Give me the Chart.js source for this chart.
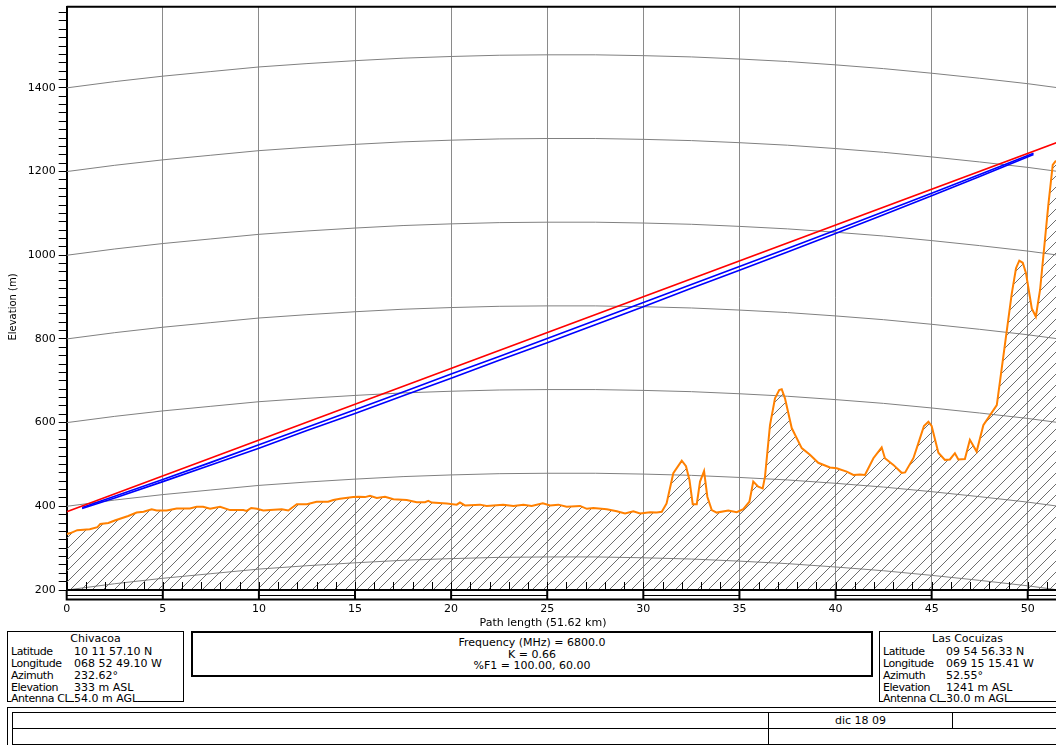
<!DOCTYPE html>
<html>
<head>
<meta charset="utf-8">
<title>Path profile Chivacoa - Las Cocuizas</title>
<script src="https://cdn.jsdelivr.net/npm/chart.js@4.4.1/dist/chart.umd.min.js"></script>
<style>
html, body { margin: 0; padding: 0; background: #fff; }
body { width: 1056px; height: 745px; position: relative; overflow: hidden;
       font-family: "DejaVu Sans", Verdana, sans-serif; font-size: 11px; color: #000; }
#profile { position: absolute; left: 0; top: 0; }
.box { position: absolute; border: 1px solid #000; box-sizing: border-box; }
.site { top: 631px; height: 71px; width: 177px; }
.site .name { position: absolute; left: 0; right: 0; top: 1px; text-align: center; line-height: 12px; }
.row { position: absolute; left: 3px; height: 12px; line-height: 12px; white-space: nowrap; }
.row span { background: #fff; }
.row .k { letter-spacing: -0.45px; }
.row .v { position: absolute; left: 63px; }
.radio { left: 191px; top: 631px; width: 682px; height: 46px; border: 2px solid #000; text-align: center; line-height: 11.5px; padding-top: 4px; }
.info { left: 7px; top: 707px; width: 1100px; height: 42px; }
.cell { position: absolute; border: 1px solid #000; box-sizing: border-box; text-align: center; line-height: 15px; }
</style>
</head>
<body>
<canvas id="profile" width="1056" height="630"></canvas>

<div class="box site" style="left:7px">
  <div class="name">Chivacoa</div>
  <div class="row" style="top:14px"><span class="k">Latitude</span><span class="v">10 11 57.10 N</span></div>
  <div class="row" style="top:26px"><span class="k">Longitude</span><span class="v">068 52 49.10 W</span></div>
  <div class="row" style="top:38px"><span class="k">Azimuth</span><span class="v">232.62°</span></div>
  <div class="row" style="top:50px"><span class="k">Elevation</span><span class="v">333 m ASL</span></div>
  <div class="row" style="top:61px"><span class="k">Antenna CL</span><span class="v">54.0 m AGL</span></div>
</div>

<div class="box radio">
  Frequency (MHz) = 6800.0<br>K = 0.66<br>%F1 = 100.00, 60.00
</div>

<div class="box site" style="left:879px; width:185px;">
  <div class="name" style="right:8px">Las Cocuizas</div>
  <div class="row" style="top:14px"><span class="k">Latitude</span><span class="v">09 54 56.33 N</span></div>
  <div class="row" style="top:26px"><span class="k">Longitude</span><span class="v">069 15 15.41 W</span></div>
  <div class="row" style="top:38px"><span class="k">Azimuth</span><span class="v">52.55°</span></div>
  <div class="row" style="top:50px"><span class="k">Elevation</span><span class="v">1241 m ASL</span></div>
  <div class="row" style="top:61px"><span class="k">Antenna CL</span><span class="v">30.0 m AGL</span></div>
</div>

<div class="box info"></div>
<div class="cell" style="left:12px; top:712px; width:757px; height:17px;"></div>
<div class="cell" style="left:768px; top:712px; width:185px; height:17px;">dic 18 09</div>
<div class="cell" style="left:952px; top:712px; width:200px; height:17px;"></div>
<div class="cell" style="left:12px; top:728px; width:757px; height:17px;"></div>
<div class="cell" style="left:768px; top:728px; width:400px; height:17px;"></div>

<script>
// terrain profile (km along path, elevation in m)
const TERRAIN_KM = [0, 0.2, 0.55, 1.2, 1.6, 1.75, 2.17, 2.5, 3.2, 3.64, 4.0, 4.42, 4.68, 5.2, 5.72, 6.41, 6.76, 7.1, 7.46, 7.98,
  8.5, 9.19, 9.36, 9.6, 9.9, 10.23, 10.58, 11.19, 11.53, 11.97, 12.5, 13.0, 13.6, 13.87, 14.22, 14.91, 15.2, 15.52, 15.78, 16.13,
  16.56, 17.0, 17.69, 18.21, 18.64, 18.81, 18.99, 19.77, 20.29, 20.46, 20.72, 21.5, 21.85, 22.71, 23.24, 23.76, 24.19, 24.77, 25.15, 25.58,
  26.01, 26.71, 27.06, 27.4, 28.1, 28.62, 29.05, 29.48, 29.83, 30.35, 30.7, 30.96, 31.21, 31.56, 32.0, 32.22, 32.4, 32.57, 32.78, 32.95,
  33.16, 33.33, 33.56, 33.82, 34.42, 34.86, 35.2, 35.52, 35.72, 35.98, 36.21, 36.33, 36.59, 36.85, 37.07, 37.2, 37.37, 37.72, 38.24, 38.67,
  39.1, 39.71, 40.06, 40.58, 40.93, 41.27, 41.53, 41.97, 42.4, 42.57, 43.01, 43.44, 43.62, 44.05, 44.31, 44.6, 44.83, 45.0, 45.35, 45.69,
  45.95, 46.21, 46.39, 46.73, 46.99, 47.34, 47.69, 48.39, 49.17, 49.39, 49.56, 49.74, 49.91, 50.21, 50.42, 50.64, 51.07, 51.3, 51.47, 51.62];
const TERRAIN_M = [334, 336, 343, 345, 350, 358, 360, 366, 377, 385, 387, 393, 390, 390, 395, 395, 399, 399, 394, 399,
  391, 391, 389, 396, 394, 390, 391, 393, 390, 405, 405, 411, 411, 415, 418, 422, 423, 422, 425, 420,
  423, 417, 415, 410, 410, 413, 409, 407, 404, 409, 402, 404, 401, 404, 401, 404, 401, 407, 402, 404,
  399, 401, 394, 396, 393, 388, 383, 388, 383, 386, 385, 387, 407, 479, 509, 496, 463, 405, 405, 459,
  484, 423, 391, 385, 390, 386, 393, 411, 459, 447, 443, 471, 594, 658, 678, 680, 658, 587, 539, 523,
  504, 493, 491, 483, 475, 476, 475, 515, 541, 515, 499, 480, 481, 515, 551, 592, 602, 592, 528, 511,
  512, 527, 512, 513, 559, 531, 594, 642, 909, 969, 987, 982, 957, 873, 853, 917, 1120, 1216, 1226, 1241];

// line of sight between antenna centre lines
const LOS_KM = [0, 51.62];
const LOS_M = [387, 1271];

// 60 % and 100 % first Fresnel zone clearance lines
const FRESNEL_KM = [0.8, 2.5, 5, 7.5, 10, 12.5, 15, 17.5, 20, 22.5, 25, 27.5, 30, 32.5, 35, 37.5, 40, 42.5, 45, 47.5, 50.3];
const F1_60_M = [397, 424, 464, 505, 547, 589, 631, 673, 716, 758, 801, 844, 887, 930, 973, 1016, 1060, 1104, 1148, 1193, 1244];
const F1_100_M = [395, 420, 459, 499, 539, 581, 622, 664, 706, 749, 791, 834, 877, 921, 964, 1008, 1052, 1097, 1142, 1188, 1241];

// earth curvature reference lines (K = 0.66)
const CURVE_KM = [0, 2.5, 5, 7.5, 10, 12.5, 15, 17.5, 20, 22.5, 25, 27.5, 30, 32.5, 35, 37.5, 40, 42.5, 45, 47.5, 50, 51.62];
const CURVE_RISE_M = [0, 15, 28, 39, 50, 58, 65, 71, 75, 78, 79, 79, 77, 74, 69, 63, 55, 46, 35, 23, 10, 0];
const CURVE_BASE_M = [200, 400, 600, 800, 1000, 1200, 1400];

const X_TICKS = [0, 5, 10, 15, 20, 25, 30, 35, 40, 45, 50];
const Y_TICKS = [200, 400, 600, 800, 1000, 1200, 1400];

const AXIS_FONT = { family: 'DejaVu Sans', size: 11 };

function makeHatch() {
    const c = document.createElement('canvas');
    c.width = 11;
    c.height = 11;
    const g = c.getContext('2d');
    g.strokeStyle = '#6e6e6e';
    g.lineWidth = 1;
    g.beginPath();
    g.moveTo(-1, 12); g.lineTo(12, -1);
    g.moveTo(-2, 2); g.lineTo(2, -2);
    g.moveTo(9, 13); g.lineTo(13, 9);
    g.stroke();
    return g.createPattern(c, 'repeat');
}

function pairs(xs, ys) {
    return xs.map((v, i) => ({ x: v, y: ys[i] }));
}

// frame, km ticks, scale bar and axis titles
const framePlugin = {
    id: 'frame',
    afterDatasetsDraw(chart) {
        const { ctx, chartArea: a, scales: { x } } = chart;
        ctx.save();
        ctx.strokeStyle = '#000';
        ctx.lineWidth = 2;
        ctx.beginPath();
        ctx.moveTo(a.left, a.top); ctx.lineTo(a.right, a.top);
        ctx.moveTo(a.left, a.bottom); ctx.lineTo(a.right, a.bottom);
        ctx.stroke();

        ctx.lineWidth = 1;
        ctx.beginPath();
        for (let k = 1; k <= 51; k++) {
            const px = Math.round(x.getPixelForValue(k)) + 0.5;
            ctx.moveTo(px, a.bottom); ctx.lineTo(px, a.bottom - 8);
        }
        ctx.stroke();

        const yBar = a.bottom + 9.5, yMid = a.bottom + 5.5;
        ctx.lineWidth = 2;
        ctx.beginPath();
        ctx.moveTo(a.left, yBar); ctx.lineTo(a.right, yBar);
        X_TICKS.forEach(v => {
            const px = x.getPixelForValue(v);
            ctx.moveTo(px, a.bottom); ctx.lineTo(px, yBar + 1);
        });
        ctx.stroke();
        ctx.lineWidth = 1;
        ctx.beginPath();
        for (let v = 0; v <= 50; v += 10) {
            ctx.moveTo(x.getPixelForValue(v), yMid);
            ctx.lineTo(Math.min(x.getPixelForValue(v + 5), a.right), yMid);
        }
        ctx.stroke();

        ctx.fillStyle = '#000';
        ctx.font = '11px "DejaVu Sans"';
        ctx.textAlign = 'center';
        ctx.textBaseline = 'middle';
        ctx.fillText('Path length (51.62 km)', 543, 623);
        ctx.translate(13, 307);
        ctx.rotate(-Math.PI / 2);
        ctx.font = '10px "DejaVu Sans"';
        ctx.fillText('Elevation (m)', 0, 0);
        ctx.restore();
    }
};

const datasets = [
    { label: 'Line of sight', data: pairs(LOS_KM, LOS_M), borderColor: '#ff0000', borderWidth: 1.6, fill: false, order: 1 },
    { label: '60% F1', data: pairs(FRESNEL_KM, F1_60_M), borderColor: '#0000ff', borderWidth: 1.6, fill: false, order: 1 },
    { label: '100% F1', data: pairs(FRESNEL_KM, F1_100_M), borderColor: '#0000ff', borderWidth: 1.6, fill: false, order: 1 },
    { label: 'Terrain', data: pairs(TERRAIN_KM, TERRAIN_M), borderColor: '#ff8000', borderWidth: 2,
      fill: 'start', backgroundColor: makeHatch(), order: 2 }
];
CURVE_BASE_M.forEach(base => {
    datasets.push({
        label: 'Curvature ' + base,
        data: CURVE_KM.map((k, i) => ({ x: k, y: base + CURVE_RISE_M[i] })),
        borderColor: '#808080', borderWidth: 1, fill: false, order: 3
    });
});

new Chart(document.getElementById('profile'), {
    type: 'line',
    data: { datasets: datasets },
    options: {
        responsive: false,
        animation: false,
        devicePixelRatio: 1,
        events: [],
        layout: { padding: { top: 6.7, left: 0, right: 0, bottom: 0 } },
        elements: { point: { radius: 0 }, line: { tension: 0 } },
        plugins: { legend: { display: false }, tooltip: { enabled: false } },
        scales: {
            x: {
                type: 'linear', min: 0, max: 51.47,
                afterBuildTicks: s => { s.ticks = X_TICKS.map(v => ({ value: v })); },
                afterFit: s => { s.height = 40; s.paddingLeft = 0; s.paddingRight = 0; },
                ticks: { autoSkip: false, maxRotation: 0, font: AXIS_FONT, color: '#000', padding: 13 },
                grid: { drawOnChartArea: true, drawTicks: false, color: '#8a8a8a', lineWidth: 1 },
                border: { display: true, color: '#000', width: 2 }
            },
            y: {
                type: 'linear', min: 200, max: 1594,
                afterBuildTicks: s => {
                    const t = [];
                    for (let v = 200; v <= 1580; v += 20) t.push({ value: v });
                    s.ticks = t;
                },
                afterFit: s => { s.width = 66.7; s.paddingTop = 0; s.paddingBottom = 0; },
                ticks: { autoSkip: false, font: AXIS_FONT, color: '#000', padding: 3,
                         callback: v => (Y_TICKS.includes(v) ? String(v) : '') },
                grid: { drawOnChartArea: false, drawTicks: true, tickLength: 8, color: '#000', lineWidth: 1 },
                border: { display: true, color: '#000', width: 2 }
            }
        }
    },
    plugins: [framePlugin]
});
</script>
</body>
</html>
